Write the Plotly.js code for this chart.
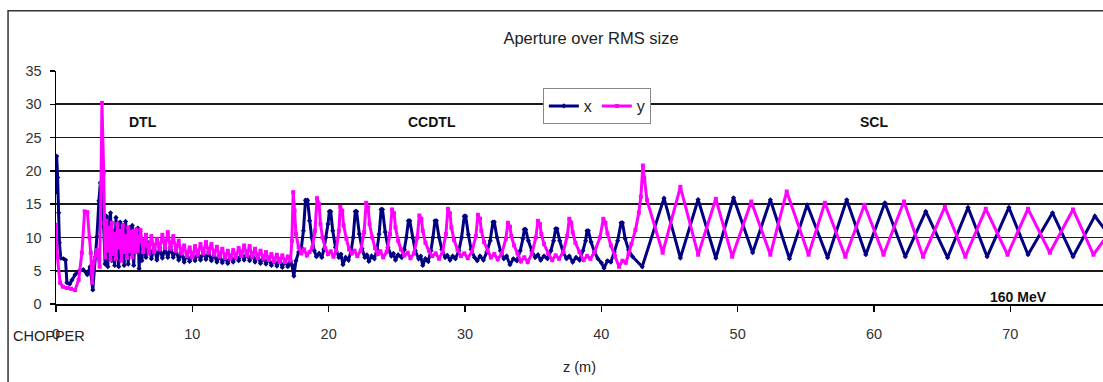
<!DOCTYPE html>
<html>
<head>
<meta charset="utf-8">
<script src="https://cdn.plot.ly/plotly-3.0.1.min.js"></script>
<style>html,body{margin:0;padding:0;background:#fff;}#chart{width:1103px;height:382px;}</style>
</head>
<body>
<div id="chart"></div>
<script>
// ---- data: [z (m), aperture / rms size] ----
const xStart = [[0.0,16.8],[0.05,22.2],[0.12,19.0],[0.2,13.7],[0.25,9.2],[0.35,6.9],[0.55,6.8],[0.7,6.6],[0.8,3.2],[1.0,3.0],[1.17,3.6],[1.4,4.4],[1.66,4.9],[2.0,5.15],[2.3,4.4],[2.5,5.6],[2.7,2.1],[2.9,7.1],[3.0,10.1],[3.15,15.5],[3.25,18.2],[3.4,16.7],[3.5,11.6]];
const xDTL = [[3.6,6.0],[3.7,13.2],[3.8,5.6],[3.9,12.4],[4.0,13.7],[4.1,6.5],[4.2,11.0],[4.3,5.8],[4.4,13.0],[4.5,8.0],[4.6,5.6],[4.7,12.3],[4.8,7.0],[4.9,11.8],[5.0,5.8],[5.1,12.4],[5.2,9.0],[5.3,6.0],[5.4,11.5],[5.5,7.5],[5.6,11.8],[5.7,5.8],[5.8,10.5],[5.9,8.5],[6.0,11.4],[6.1,5.3],[6.2,10.0],[6.3,6.5],[6.4,9.5],[6.6,7.0],[6.8,9.2],[7.0,6.8],[7.2,8.8],[7.4,6.6],[7.6,8.5],[7.8,6.9],[8.0,8.4],[8.2,7.0],[8.4,8.6],[8.6,7.0],[8.8,8.2],[9.0,6.6],[9.2,7.8],[9.4,6.3],[9.6,7.6],[9.8,6.4],[10.0,7.5],[10.2,6.5],[10.4,7.8],[10.6,6.6],[10.8,7.9],[11.0,6.7],[11.2,7.8],[11.4,6.5],[11.6,7.5],[11.8,6.3],[12.0,7.3],[12.2,6.2],[12.4,7.1],[12.6,6.1],[12.8,7.2],[13.0,6.3],[13.2,7.4],[13.4,6.5],[13.6,7.7],[13.8,6.6],[14.0,7.8],[14.2,6.5],[14.4,7.6],[14.6,6.3],[14.8,7.3],[15.0,6.1],[15.2,7.1],[15.4,6.0],[15.6,6.9],[15.8,5.8],[16.0,6.8],[16.2,5.7],[16.4,6.7],[16.6,5.5],[16.8,6.6],[17.0,5.6],[17.2,6.4],[17.3,5.9]];
const xCCDTL = [[17.45,4.2],[17.6,6.5],[17.8,7.8],[18.0,8.5],[18.15,11.0],[18.3,15.6],[18.45,15.6],[18.6,12.5],[18.75,10.0],[18.95,8.0],[19.1,7.1],[19.3,7.6],[19.5,7.0],[19.65,8.2],[19.8,10.0],[19.95,12.0],[20.05,13.9],[20.15,13.9],[20.3,11.0],[20.5,8.5],[20.75,7.0],[20.9,7.5],[21.05,5.9],[21.25,7.0],[21.45,6.6],[21.65,8.0],[21.8,10.0],[21.95,13.9],[22.05,13.9],[22.25,10.5],[22.45,8.3],[22.65,7.0],[22.8,7.4],[22.95,6.4],[23.15,7.2],[23.35,6.8],[23.55,8.2],[23.7,10.5],[23.85,14.2],[23.95,14.2],[24.15,10.8],[24.35,8.5],[24.6,7.2],[24.75,7.6],[24.9,6.6],[25.1,7.4],[25.35,7.0],[25.55,8.2],[25.7,10.0],[25.85,12.5],[25.95,12.5],[26.15,10.0],[26.35,8.0],[26.6,6.8],[26.75,7.2],[26.9,5.8],[27.1,6.8],[27.3,6.4],[27.5,8.0],[27.65,10.0],[27.8,12.5],[27.9,12.5],[28.1,10.0],[28.3,8.2],[28.55,7.0],[28.7,7.3],[28.9,6.6],[29.1,7.2],[29.3,6.8],[29.55,8.0],[29.75,10.0],[29.95,13.2],[30.05,13.2],[30.25,10.4],[30.45,8.2],[30.7,7.0],[30.9,6.5],[31.1,7.2],[31.35,6.6],[31.6,7.8],[31.85,9.5],[32.05,12.3],[32.15,12.3],[32.35,10.0],[32.6,8.0],[32.85,6.8],[33.05,7.2],[33.3,5.9],[33.55,6.8],[33.8,6.5],[34.05,8.0],[34.25,9.8],[34.35,11.2],[34.45,11.2],[34.65,9.5],[34.9,8.0],[35.15,7.0],[35.35,7.4],[35.55,6.6],[35.8,7.2],[36.05,6.8],[36.3,8.0],[36.5,9.5],[36.65,11.3],[36.75,11.3],[36.95,9.5],[37.2,7.8],[37.45,6.8],[37.65,7.2],[37.9,6.3],[38.15,7.0],[38.4,6.6],[38.65,8.0],[38.85,9.5],[38.95,11.0],[39.05,11.0],[39.25,9.3],[39.5,7.8],[39.75,6.8],[40.0,6.2],[40.2,5.4],[40.45,6.5],[40.7,6.3],[40.95,7.8],[41.2,9.5],[41.45,12.2],[41.55,12.2],[41.75,9.8],[42.0,8.1],[42.3,7.1],[43.0,5.6]];
const xSCL = [[44.6,15.9],[45.8,6.9],[47.1,15.7],[48.4,6.9],[49.7,15.96],[51.1,7.7],[52.4,15.66],[53.8,6.8],[55.1,14.9],[56.6,6.95],[58.0,15.66],[59.4,7.4],[60.8,15.2],[62.3,7.1],[63.8,13.9],[65.4,6.95],[66.9,14.5],[68.3,7.1],[69.9,14.5],[71.3,7.4],[73.1,13.7],[74.6,7.1],[76.2,13.2],[77.0,11.0]];

const yStart = [[0.0,11.9],[0.1,7.1],[0.3,3.2],[0.5,2.6],[0.8,2.4],[1.1,2.3],[1.4,2.1],[1.66,3.6],[1.9,7.7],[2.1,13.9],[2.3,13.8],[2.45,10.0],[2.55,7.7],[2.65,3.2],[2.75,6.2],[3.0,8.1],[3.2,5.6],[3.3,18.0],[3.37,30.2],[3.5,19.7],[3.55,12.2]];
const yDTL = [[3.6,7.0],[3.7,12.5],[3.8,8.0],[3.9,11.5],[4.0,6.6],[4.1,12.2],[4.2,7.5],[4.3,10.5],[4.4,6.8],[4.5,12.0],[4.6,8.5],[4.7,11.0],[4.8,6.5],[4.9,11.8],[5.0,7.8],[5.1,10.2],[5.2,6.9],[5.3,11.5],[5.4,8.0],[5.5,10.8],[5.6,7.0],[5.7,11.0],[5.8,7.8],[5.9,11.2],[6.0,8.0],[6.2,11.1],[6.4,7.8],[6.6,10.4],[6.8,7.6],[7.0,10.2],[7.2,7.8],[7.4,9.8],[7.6,8.2],[7.8,10.4],[8.0,8.4],[8.2,10.8],[8.4,8.3],[8.6,10.2],[8.8,8.0],[9.0,9.5],[9.2,7.6],[9.4,8.8],[9.6,7.2],[9.8,8.5],[10.0,7.0],[10.2,8.7],[10.4,7.4],[10.6,9.0],[10.8,7.6],[11.0,9.3],[11.2,7.7],[11.4,9.0],[11.6,7.4],[11.8,8.6],[12.0,7.1],[12.2,8.3],[12.4,6.9],[12.6,8.0],[12.8,6.8],[13.0,8.1],[13.2,7.0],[13.4,8.4],[13.6,7.2],[13.8,8.8],[14.0,7.3],[14.2,8.7],[14.4,7.1],[14.6,8.3],[14.8,6.9],[15.0,8.0],[15.2,6.8],[15.4,7.8],[15.6,6.6],[15.8,7.5],[16.0,6.4],[16.2,7.4],[16.4,6.3],[16.6,7.3],[16.8,6.3],[17.0,7.1],[17.2,6.5]];
const yCCDTL = [[17.3,9.5],[17.4,16.8],[17.5,14.0],[17.6,10.5],[17.8,8.5],[18.0,7.6],[18.2,8.2],[18.4,7.3],[18.6,7.8],[18.8,8.5],[19.0,11.0],[19.15,15.9],[19.3,15.0],[19.4,12.0],[19.55,10.0],[19.75,8.4],[19.95,7.5],[20.15,7.9],[20.35,7.1],[20.55,8.0],[20.75,11.0],[20.85,14.6],[21.0,14.0],[21.1,11.8],[21.3,9.8],[21.5,8.2],[21.7,7.6],[21.9,8.0],[22.1,7.2],[22.35,8.0],[22.6,10.8],[22.75,15.2],[22.9,14.5],[23.0,12.0],[23.2,10.0],[23.4,8.4],[23.6,7.5],[23.8,7.9],[24.0,7.0],[24.25,7.8],[24.5,10.5],[24.65,14.2],[24.8,13.6],[24.9,11.5],[25.1,9.5],[25.3,8.2],[25.55,7.3],[25.8,7.7],[26.0,6.9],[26.25,7.6],[26.5,10.0],[26.65,13.3],[26.8,12.8],[26.9,11.0],[27.1,9.2],[27.35,8.0],[27.6,7.2],[27.85,7.6],[28.1,6.8],[28.35,7.8],[28.6,10.5],[28.75,14.3],[28.9,13.6],[29.0,11.5],[29.2,9.6],[29.45,8.2],[29.7,7.2],[29.95,7.6],[30.2,6.9],[30.5,7.8],[30.8,10.2],[30.95,13.4],[31.1,12.8],[31.2,11.0],[31.4,9.3],[31.65,8.0],[31.9,7.0],[32.15,7.5],[32.4,6.7],[32.7,7.6],[33.0,9.8],[33.15,12.2],[33.3,11.6],[33.4,10.2],[33.6,8.8],[33.85,7.6],[34.1,6.4],[34.35,7.0],[34.6,6.3],[34.9,7.5],[35.2,10.0],[35.35,12.5],[35.5,12.0],[35.6,10.5],[35.8,9.0],[36.1,7.6],[36.4,6.6],[36.65,7.3],[36.9,6.8],[37.2,7.8],[37.5,10.2],[37.65,12.8],[37.8,12.2],[37.9,10.8],[38.1,9.2],[38.4,7.8],[38.7,6.6],[38.95,7.2],[39.2,6.8],[39.5,7.8],[39.9,10.0],[40.15,12.8],[40.3,12.2],[40.45,10.6],[40.7,8.8],[41.0,7.2],[41.3,5.6],[41.55,6.5],[41.8,6.2],[42.0,7.5],[42.2,9.0],[42.5,11.1],[42.75,13.7],[42.9,16.1],[43.05,20.8],[43.15,18.9],[43.35,15.6]];
const ySCL = [[44.5,7.7],[45.8,17.6],[47.1,7.4],[48.4,15.8],[49.6,7.1],[51.0,15.4],[52.4,7.4],[53.6,16.9],[55.2,7.4],[56.4,15.2],[57.9,7.1],[59.3,14.9],[60.7,7.4],[62.2,15.4],[63.6,7.1],[65.2,14.6],[66.7,7.1],[68.2,14.3],[69.8,7.4],[71.3,14.3],[72.9,7.7],[74.6,14.2],[76.1,7.4],[77.0,10.0]];

const yTicks = [0,5,10,15,20,25,30,35];
const xTicks = [0,10,20,30,40,50,60,70];
const xTickText = ['0','10','20','30','40','50','60','70'];
const sectionLabels = ['DTL','CCDTL','SCL'];
const sectionZ = [6.4, 27.6, 60.0];

const xPts = xStart.concat(xDTL, xCCDTL, xSCL);
const yPts = yStart.concat(yDTL, yCCDTL, ySCL);

const FONT = 'Liberation Sans, Arial, sans-serif';
const traces = [
  {x: xPts.map(p=>p[0]), y: xPts.map(p=>p[1]), name: 'x', mode: 'lines+markers', type: 'scatter',
   line: {color: '#000080', width: 3}, marker: {color: '#000080', size: 4, symbol: 'diamond'}},
  {x: yPts.map(p=>p[0]), y: yPts.map(p=>p[1]), name: 'y', mode: 'lines+markers', type: 'scatter',
   line: {color: '#ff00ff', width: 3}, marker: {color: '#ff00ff', size: 4, symbol: 'square'}}
];

const ann = sectionLabels.map((t,i)=>({x: sectionZ[i], y: 27.4, xref:'x', yref:'y', text: '<b>'+t+'</b>', showarrow:false,
  font:{family:FONT, size:14, color:'#111'}, xanchor:'center', yanchor:'middle'}));
ann.push({x: 70.6, y: 1.0, xref:'x', yref:'y', text:'<b>160 MeV</b>', showarrow:false,
  font:{family:FONT, size:14, color:'#111'}, xanchor:'center', yanchor:'middle'});
ann.push({x: -0.0067, y: -0.139, xref:'paper', yref:'paper', text:'CHOPPER', showarrow:false,
  font:{family:FONT, size:14.5, color:'#222'}, xanchor:'center', yanchor:'middle'});

const layout = {
  width: 1103, height: 382,
  margin: {l: 56, r: 0, t: 71, b: 78},
  paper_bgcolor: '#fff', plot_bgcolor: '#fff',
  font: {family: FONT, color: '#222'},
  title: {text: 'Aperture over RMS size', font: {family: FONT, size: 16.5, color: '#222'},
          x: 0.511, xref: 'paper', xanchor: 'center', y: 1 - 38/382, yref: 'container', yanchor: 'middle'},
  xaxis: {range: [0, 76.8], tickvals: xTicks, ticktext: xTickText, ticks: 'outside', ticklen: 6, tickwidth: 1.5,
          tickcolor: '#000', showgrid: false, zeroline: false, showline: true, linecolor: '#000', linewidth: 1.5,
          tickfont: {family: FONT, size: 14.5, color: '#333'}, ticklabelstandoff: 10,
          title: {text: 'z (m)', font: {family: FONT, size: 14.5, color: '#222'}, standoff: 21}},
  yaxis: {range: [0, 35], tickvals: yTicks, ticks: 'outside', ticklen: 5, tickwidth: 1.5, tickcolor: '#000',
          showgrid: true, gridcolor: '#1a1a1a', gridwidth: 1.8, zeroline: false, showline: true, linecolor: '#000',
          linewidth: 1.5, tickfont: {family: FONT, size: 14.5, color: '#333'}, ticklabelstandoff: 5},
  showlegend: true,
  legend: {orientation: 'h', x: 0.465, y: 0.927, xanchor: 'left', yanchor: 'top', bgcolor: '#fff',
           bordercolor: '#888', borderwidth: 1, font: {family: FONT, size: 16, color: '#222'}},
  annotations: ann,
  shapes: [{type: 'rect', xref: 'paper', yref: 'paper', x0: -0.0458, x1: 1.05, y0: -0.5, y1: 1.259,
            line: {color: '#333', width: 1.5}, fillcolor: 'rgba(0,0,0,0)', layer: 'below'}]
};

Plotly.newPlot('chart', traces, layout, {displayModeBar: false, staticPlot: true});
</script>
</body>
</html>
